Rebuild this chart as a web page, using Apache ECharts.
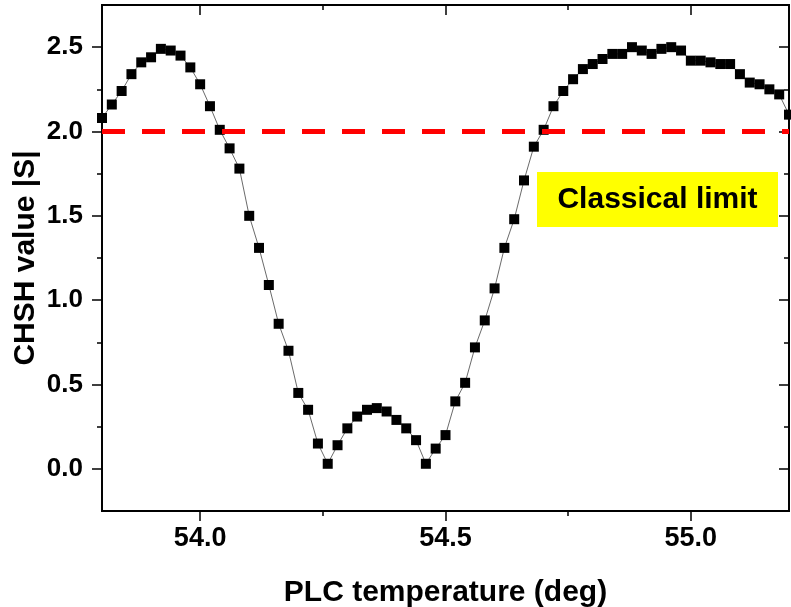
<!DOCTYPE html>
<html>
<head>
<meta charset="utf-8">
<script src="https://cdn.jsdelivr.net/npm/echarts@6/dist/echarts.min.js"></script>
<style>
html,body{margin:0;padding:0;background:#fff;}
#chart{width:791px;height:607px;}
</style>
</head>
<body>
<div id="chart"></div>
<script>
// ---- data ----
const temperatures = [
  53.80,53.82,53.84,53.86,53.88,53.90,53.92,53.94,53.96,53.98,
  54.00,54.02,54.04,54.06,54.08,54.10,54.12,54.14,54.16,54.18,
  54.20,54.22,54.24,54.26,54.28,54.30,54.32,54.34,54.36,54.38,
  54.40,54.42,54.44,54.46,54.48,54.50,54.52,54.54,54.56,54.58,
  54.60,54.62,54.64,54.66,54.68,54.70,54.72,54.74,54.76,54.78,
  54.80,54.82,54.84,54.86,54.88,54.90,54.92,54.94,54.96,54.98,
  55.00,55.02,55.04,55.06,55.08,55.10,55.12,55.14,55.16,55.18,
  55.20
];
const chshValues = [
  2.08,2.16,2.24,2.34,2.41,2.44,2.49,2.48,2.45,2.38,
  2.28,2.15,2.01,1.90,1.78,1.50,1.31,1.09,0.86,0.70,
  0.45,0.35,0.15,0.03,0.14,0.24,0.31,0.35,0.36,0.34,
  0.29,0.24,0.17,0.03,0.12,0.20,0.40,0.51,0.72,0.88,
  1.07,1.31,1.48,1.71,1.91,2.01,2.15,2.24,2.31,2.37,
  2.40,2.43,2.46,2.46,2.50,2.48,2.46,2.49,2.50,2.48,
  2.42,2.42,2.41,2.40,2.40,2.34,2.29,2.28,2.25,2.22,
  2.10
];
const classicalLimit = 2.0;
const xRange = [53.8, 55.2];
const yRange = [-0.25, 2.75];
const xMajorTicks = [54.0, 54.5, 55.0];
const xMinorTicks = [54.25, 54.75];
const yMajorTicks = [0.0, 0.5, 1.0, 1.5, 2.0, 2.5];
const yMinorTicks = [0.25, 0.75, 1.25, 1.75, 2.25];
const xTitle = 'PLC temperature (deg)';
const yTitle = 'CHSH value |S|';
const annotationText = 'Classical limit';

// ---- chart ----
const FONT = 'Liberation Sans';
const axisLineStyle = {color: '#000', width: 1.8};
function xAx(pos, ticks, len, inside, labels, name) {
  return {
    type: 'value', position: pos, min: xRange[0], max: xRange[1],
    name: name || '', nameLocation: 'middle', nameGap: 67, nameMoveOverlap: false,
    nameTextStyle: {fontFamily: FONT, fontWeight: 'bold', fontSize: 30, color: '#000'},
    axisLine: {show: true, onZero: false, lineStyle: axisLineStyle},
    axisTick: {show: true, inside: inside, length: len, customValues: ticks, lineStyle: {color: '#000', width: 1.5}},
    axisLabel: labels ? {show: true, customValues: ticks, margin: 14, fontFamily: FONT, fontWeight: 'bold', fontSize: 27, color: '#000', formatter: v => v.toFixed(1)} : {show: false},
    splitLine: {show: false}
  };
}
function yAx(pos, ticks, len, inside, labels, name) {
  return {
    type: 'value', position: pos, min: yRange[0], max: yRange[1],
    name: name || '', nameLocation: 'middle', nameGap: 61, nameMoveOverlap: false,
    nameTextStyle: {fontFamily: FONT, fontWeight: 'bold', fontSize: 30, color: '#000'},
    axisLine: {show: true, onZero: false, lineStyle: axisLineStyle},
    axisTick: {show: true, inside: inside, length: len, customValues: ticks, lineStyle: {color: '#000', width: 1.5}},
    axisLabel: labels ? {show: true, customValues: ticks, margin: 19, fontFamily: FONT, fontWeight: 'bold', fontSize: 26, color: '#000', formatter: v => v.toFixed(1)} : {show: false},
    splitLine: {show: false}
  };
}

const chart = echarts.init(document.getElementById('chart'), null, {renderer: 'canvas'});
chart.setOption({
  animation: false,
  backgroundColor: '#fff',
  grid: {left: 102, top: 5, right: 2, bottom: 96, containLabel: false, outerBoundsMode: 'none'},
  xAxis: [
    xAx('bottom', xMajorTicks, 10, false, true, xTitle),
    xAx('bottom', xMinorTicks, 5, false, false),
    xAx('top', xMajorTicks, 10, true, false),
    xAx('top', xMinorTicks, 5, true, false)
  ],
  yAxis: [
    yAx('left', yMajorTicks, 10, false, true, yTitle),
    yAx('left', yMinorTicks, 5, false, false),
    yAx('right', yMajorTicks, 10, true, false),
    yAx('right', yMinorTicks, 5, true, false)
  ],
  series: [
    {
      type: 'line', xAxisIndex: 0, yAxisIndex: 0, z: 3,
      data: temperatures.map((t, i) => [t, chshValues[i]]),
      symbol: 'rect', symbolSize: 10, showAllSymbol: true,
      itemStyle: {color: '#000'},
      lineStyle: {color: '#444', width: 0.8},
      clip: true
    },
    {
      type: 'line', xAxisIndex: 0, yAxisIndex: 0, z: 4,
      data: [[xRange[0], classicalLimit], [xRange[1], classicalLimit]],
      symbol: 'none',
      lineStyle: {color: '#ff0000', width: 5, type: [23, 17], cap: 'butt'}
    }
  ],
  graphic: [
    {
      type: 'group', left: 537, top: 172,
      children: [
        {type: 'rect', shape: {x: 0, y: 0, width: 241, height: 55}, style: {fill: '#ffff00'}},
        {type: 'text', x: 120.5, y: 28, style: {text: annotationText, fontFamily: FONT, fontWeight: 'bold', fontSize: 30, fill: '#000', align: 'center', verticalAlign: 'middle'}}
      ]
    }
  ]
});
</script>
</body>
</html>
